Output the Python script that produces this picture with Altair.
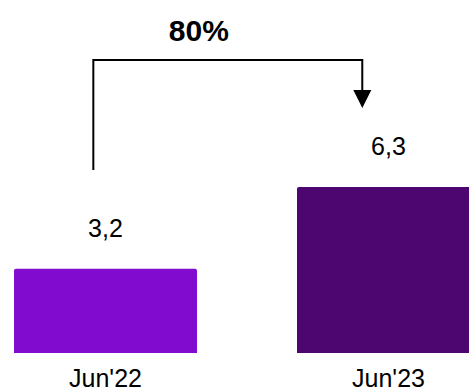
import altair as alt
import pandas as pd

# ---- data ----
categories = ["Jun'22", "Jun'23"]
values = [3.2, 6.3]
value_labels = ["3,2", "6,3"]
bar_colors = ["#810BCF", "#4D0670"]
growth_label = "80%"

df = pd.DataFrame({
    "cat": categories,
    "value": values,
    "label": value_labels,
    "pos": list(range(len(categories))),
    "color": bar_colors,
})

# ---- layout constants (scale geometry / annotation placement) ----
HALF = 0.3233          # half bar width in category-step units
X_DOM = [-0.3728, 1.2845]
Y_DOM = [0, 13.4]
ARROW_Y = 11.12        # level of the horizontal bracket
LEFT_X = -0.043
RIGHT_X = 0.9074
LEFT_Y0 = 6.95
HEAD_Y = 9.64
HEAD_TOP = 9.85

x_scale = alt.Scale(domain=X_DOM, nice=False, zero=False)
y_scale = alt.Scale(domain=Y_DOM, nice=False, zero=True)

base = alt.Chart(df).transform_calculate(
    x0=f"datum.pos - {HALF}", x1=f"datum.pos + {HALF}", zero="0"
)

bars = base.mark_bar(clip=True, cornerRadiusTopLeft=2, cornerRadiusTopRight=2).encode(
    x=alt.X("x0:Q", scale=x_scale, axis=None),
    x2="x1:Q",
    y=alt.Y("value:Q", scale=y_scale, axis=None),
    y2="zero:Q",
    color=alt.Color("color:N", scale=None, legend=None),
)

val_text = base.mark_text(
    font="Liberation Sans", fontSize=25, baseline="alphabetic", dy=-32, color="#000000"
).encode(x=alt.X("pos:Q", scale=x_scale), y=alt.Y("value:Q", scale=y_scale), text="label:N")

cat_text = base.mark_text(
    font="Liberation Sans", fontSize=25, baseline="alphabetic", dy=34, color="#000000"
).encode(x=alt.X("pos:Q", scale=x_scale), y=alt.Y("zero:Q", scale=y_scale), text="cat:N")

# bracket arrow connecting the two bars
path_df = pd.DataFrame({
    "x": [LEFT_X, LEFT_X, RIGHT_X, RIGHT_X],
    "y": [LEFT_Y0, ARROW_Y, ARROW_Y, HEAD_TOP],
    "o": [0, 1, 2, 3],
})
bracket = alt.Chart(path_df).mark_line(color="#000000", strokeWidth=2, strokeJoin="miter").encode(
    x=alt.X("x:Q", scale=x_scale), y=alt.Y("y:Q", scale=y_scale), order="o:Q"
)

head = alt.Chart(pd.DataFrame({"x": [RIGHT_X], "y": [HEAD_Y]})).mark_point(
    shape="M-1,-1L1,-1L0,1Z", size=324, filled=True, color="#000000", opacity=1
).encode(x=alt.X("x:Q", scale=x_scale), y=alt.Y("y:Q", scale=y_scale))

growth = alt.Chart(pd.DataFrame({"x": [0.33], "y": [11.85], "t": [growth_label]})).mark_text(
    font="Liberation Sans", fontSize=30, fontWeight="bold", baseline="alphabetic", color="#000000"
).encode(x=alt.X("x:Q", scale=x_scale), y=alt.Y("y:Q", scale=y_scale), text="t:N")

chart = alt.layer(bars, val_text, cat_text, bracket, head, growth).properties(
    width=469, height=353,
    autosize=alt.AutoSizeParams(type="none"),
    padding={"left": 0, "top": 0, "right": 0, "bottom": 38},
).configure(background="#ffffff").configure_view(stroke="transparent", strokeWidth=0)

chart.save("out.html", embed_options={"renderer": "svg", "actions": False})
